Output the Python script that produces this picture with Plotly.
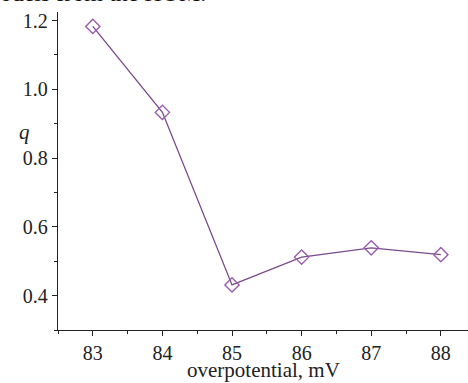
import plotly.graph_objects as go

# Measured q versus overpotential
overpotential_mv = [83, 84, 85, 86, 87, 88]
q_values = [1.183, 0.933, 0.431, 0.512, 0.539, 0.519]

x_ticks = [83, 84, 85, 86, 87, 88]
y_ticks = [0.4, 0.6, 0.8, 1.0, 1.2]
y_tick_labels = ["0.4", "0.6", "0.8", "1.0", "1.2"]

FONT = "Liberation Serif"
LINE_COLOR = "#7a4a8c"
MARKER_COLOR = "#9a5cac"

fig = go.Figure()
fig.add_trace(go.Scatter(
    x=overpotential_mv,
    y=q_values,
    mode="lines+markers",
    line=dict(color=LINE_COLOR, width=1.3),
    marker=dict(symbol="diamond-open", size=11,
                color=MARKER_COLOR, line=dict(color=MARKER_COLOR, width=1.4)),
    showlegend=False,
))

axis_common = dict(
    showline=True, linecolor="#222", linewidth=1.3,
    ticks="outside", ticklen=5, tickwidth=1.2, tickcolor="#222",
    showgrid=False, zeroline=False,
    tickfont=dict(family=FONT, size=20, color="#222"),
)

fig.update_xaxes(
    range=[82.5, 88.39],
    tickvals=x_ticks,
    minor=dict(dtick=0.5, tick0=82.5, ticks="outside", ticklen=3,
               tickwidth=1.2, tickcolor="#222"),
    **axis_common,
)
fig.update_yaxes(
    range=[0.3, 1.225],
    tickvals=y_ticks,
    ticktext=y_tick_labels,
    minor=dict(dtick=0.1, tick0=0.3, ticks="outside", ticklen=3,
               tickwidth=1.2, tickcolor="#222"),
    **axis_common,
)

# x axis title, placed below the tick labels
fig.add_annotation(
    text="overpotential, mV", xref="paper", yref="paper", x=0.5, y=-0.127,
    xanchor="center", yanchor="middle", showarrow=False,
    font=dict(family=FONT, size=21, color="#222"),
)

# axis symbol for the y axis, set horizontally
fig.add_annotation(
    text="<i>q</i>", xref="paper", yref="paper", x=-0.1, y=0.623,
    showarrow=False, font=dict(family=FONT, size=21, color="#222"),
)

# caption fragment above the plot
fig.add_annotation(
    text="models from the HOM.", xref="paper", yref="paper",
    x=(-21 - 58) / 410, xanchor="left", y=1.012, yanchor="bottom",
    showarrow=False, font=dict(family=FONT, size=24, color="#111"),
)

fig.update_layout(
    width=468, height=383,
    margin=dict(l=58, r=0, t=12, b=53),
    paper_bgcolor="white", plot_bgcolor="white",
)

fig.write_html("out.html")
